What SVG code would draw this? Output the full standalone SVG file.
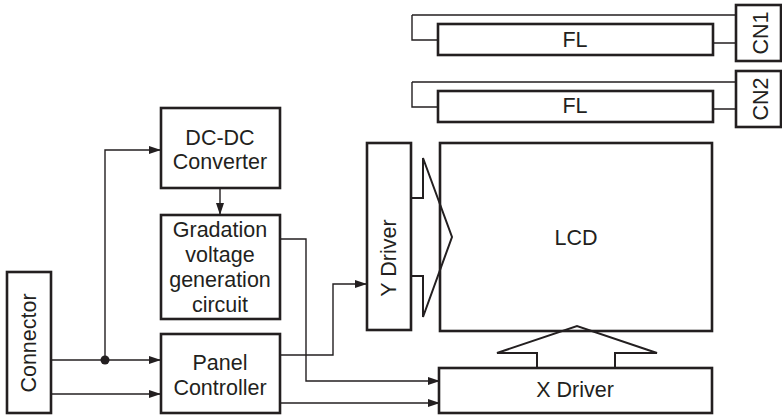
<svg xmlns="http://www.w3.org/2000/svg" width="782" height="417" viewBox="0 0 782 417">
<style>
.box{fill:#fff;stroke:#231f20;stroke-width:2.6}
.ln{fill:none;stroke:#231f20;stroke-width:1.4}
.big{fill:none;stroke:#231f20;stroke-width:2}
text{font-family:"Liberation Sans",Arial,sans-serif;font-size:21.5px;fill:#231f20;text-anchor:middle}
</style>
<defs>
<marker id="ah" markerWidth="12" markerHeight="8" refX="12" refY="4" orient="auto" markerUnits="userSpaceOnUse">
<path d="M0,0 L12,4 L0,8 Z" fill="#231f20"/>
</marker>
</defs>
<rect width="782" height="417" fill="#fff"/>
<g id="connectors">
<path class="ln" d="M412,15 H736 M412,15 V40 H438 M713,43 H736"/>
<path class="ln" d="M412,82 H736 M412,82 V107 H438 M713,109 H736"/>
<path class="ln" d="M51,360 H161" marker-end="url(#ah)"/>
<path class="ln" d="M105,360 V150 H161" marker-end="url(#ah)"/>
<path class="ln" d="M51,394 H161" marker-end="url(#ah)"/>
<path class="ln" d="M220,188 V215" marker-end="url(#ah)"/>
<path class="ln" d="M280,239 H306 V381 H440" marker-end="url(#ah)"/>
<path class="ln" d="M280,355 H333 V284 H367" marker-end="url(#ah)"/>
<path class="ln" d="M280,403 H440" marker-end="url(#ah)"/>
<circle cx="105" cy="360" r="4.5" fill="#231f20"/>
</g>
<g id="cn1"><rect class="box" x="736" y="5" width="45" height="56"/><text transform="translate(768,33) rotate(-90)">CN1</text></g>
<g id="fl1"><rect class="box" x="438" y="24" width="275" height="31"/><text x="575" y="47">FL</text></g>
<g id="cn2"><rect class="box" x="736" y="71" width="45" height="56"/><text transform="translate(768,99) rotate(-90)">CN2</text></g>
<g id="fl2"><rect class="box" x="438" y="91" width="275" height="31"/><text x="575" y="113">FL</text></g>
<g id="connector"><rect class="box" x="7" y="272" width="44" height="141"/><text transform="translate(36,343) rotate(-90)">Connector</text></g>
<g id="dcdc"><rect class="box" x="161" y="108" width="119" height="80"/><text x="220" y="145">DC-DC</text><text x="220" y="169">Converter</text></g>
<g id="gradation"><rect class="box" x="161" y="215" width="119" height="104"/><text x="220" y="237">Gradation</text><text x="220" y="262">voltage</text><text x="220" y="287">generation</text><text x="220" y="312">circuit</text></g>
<g id="panel"><rect class="box" x="161" y="334" width="119" height="79"/><text x="220" y="370">Panel</text><text x="220" y="395">Controller</text></g>
<g id="lcd"><rect class="box" x="440" y="143" width="272" height="188" style="fill:none"/><text x="576" y="245">LCD</text></g>
<g id="ydriver"><rect class="box" x="367" y="143" width="44" height="187"/><text transform="translate(396,258) rotate(-90)">Y Driver</text></g>
<g id="xdriver"><rect class="box" x="439" y="368" width="273" height="45"/><text x="575" y="397">X Driver</text></g>
<g id="arrows">
<path class="big" d="M411,198 H423 V158 L452,237 L423,317 V276 H411"/>
<path class="big" d="M537,368 V353 H497 L577,326 L657,353 H615 V368"/>
</g>
</svg>
